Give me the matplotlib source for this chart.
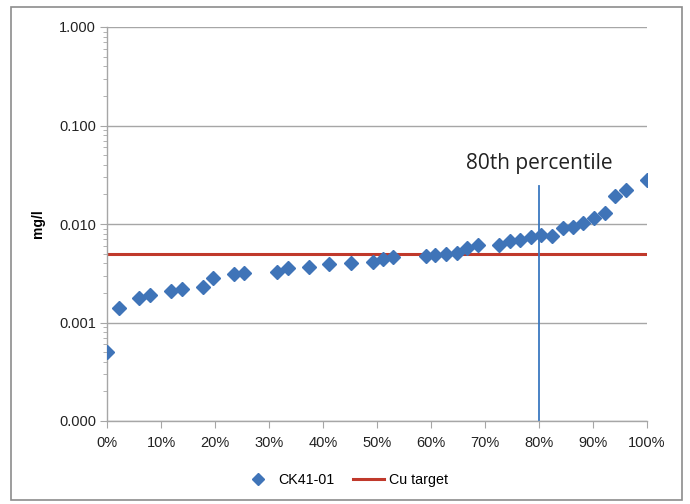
import matplotlib
matplotlib.use("Agg")
import matplotlib.pyplot as plt
from matplotlib.ticker import LogLocator, NullFormatter
from matplotlib.patches import Rectangle
from matplotlib.lines import Line2D

plt.rcParams['font.family'] = ['Liberation Sans', 'DejaVu Sans']

percentile = [0.0, 2.2, 5.9, 8.0, 11.9, 13.9, 17.8, 19.6, 23.5, 25.4, 31.5, 33.5, 37.4,
              41.1, 45.2, 49.3, 51.1, 53.0, 59.1, 60.7, 62.8, 64.8, 66.7, 68.7, 72.6,
              74.6, 76.5, 78.5, 80.4, 82.4, 84.4, 86.3, 88.1, 90.2, 92.2, 94.1, 96.1, 100.0]
cu_mgl = [0.00050, 0.00140, 0.00177, 0.00190, 0.00209, 0.00219, 0.00229, 0.00283, 0.00311,
          0.00318, 0.00326, 0.00358, 0.00366, 0.00392, 0.00402, 0.00411, 0.00441, 0.00462,
          0.00473, 0.00484, 0.00496, 0.00508, 0.00571, 0.00612, 0.00612, 0.00672, 0.00688,
          0.00738, 0.00773, 0.00755, 0.0091, 0.0093, 0.0102, 0.0115, 0.0129, 0.0192,
          0.0221, 0.0280]
cu_target = 0.005
percentile_line = 80
y_ticks = [0.0001, 0.001, 0.01, 0.1, 1.0]
y_tick_labels = ['0.000', '0.001', '0.010', '0.100', '1.000']
x_ticks = [0, 10, 20, 30, 40, 50, 60, 70, 80, 90, 100]
x_tick_labels = [f'{v}%' for v in x_ticks]

fig = plt.figure(figsize=(6.9, 5.04), dpi=100)
ax = fig.add_axes([107/690, 1-421/504, 540/690, 394/504])

# outer frame
fig.patches.append(Rectangle((11/690, 1-500/504), 671/690, 493/504, transform=fig.transFigure,
                             fill=False, edgecolor='#8c8c8c', linewidth=1.2))

ax.set_yscale('log')
ax.set_ylim(0.0001, 1.0)
ax.set_xlim(0, 100)

ax.axhline(cu_target, color='#c0392b', linewidth=2.2, zorder=2)
ax.plot([percentile_line, percentile_line], [0.0001, 0.0245], color='#3a78c0', linewidth=1.3, zorder=2)
ax.plot(percentile, cu_mgl, linestyle='none', marker='D', markersize=7.5,
        color='#3f74b8', markeredgecolor='#3f74b8', zorder=3)

ax.text(percentile_line, 0.0416, '80th percentile', ha='center', va='center', fontsize=15,
        family=['Open Sans', 'DejaVu Sans'], color='#222222')

ax.set_yticks(y_ticks)
ax.set_yticklabels(y_tick_labels)
ax.yaxis.set_minor_locator(LogLocator(base=10, subs=range(2, 10)))
ax.yaxis.set_minor_formatter(NullFormatter())
ax.set_xticks(x_ticks)
ax.set_xticklabels(x_tick_labels)
ax.grid(axis='y', which='major', color='#a6a6a6', linewidth=1.0)
ax.set_axisbelow(True)

for s in ['top', 'right']:
    ax.spines[s].set_visible(False)
for s in ['left', 'bottom']:
    ax.spines[s].set_color('#a6a6a6')
    ax.spines[s].set_linewidth(1.0)

ax.tick_params(axis='both', which='both', colors='#a6a6a6', labelcolor='#222222', labelsize=10.5)
ax.tick_params(axis='y', which='major', length=5, direction='out', pad=3)
ax.tick_params(axis='y', which='minor', length=3, direction='out')
ax.tick_params(axis='x', which='major', length=5, direction='out', pad=6)

ax.set_ylabel('mg/l', fontsize=10, fontweight='bold', labelpad=10)

handles = [Line2D([], [], linestyle='none', marker='D', markersize=6, color='#3f74b8'),
           Line2D([], [], color='#c0392b', linewidth=2.2)]
fig.legend(handles, ['CK41-01', 'Cu target'], loc='center', bbox_to_anchor=(0.5, 1-480/504),
           ncol=2, frameon=False, fontsize=10.3, handlelength=2.2, columnspacing=1.3, handletextpad=0.3)

fig.savefig('out.png', dpi=100)
